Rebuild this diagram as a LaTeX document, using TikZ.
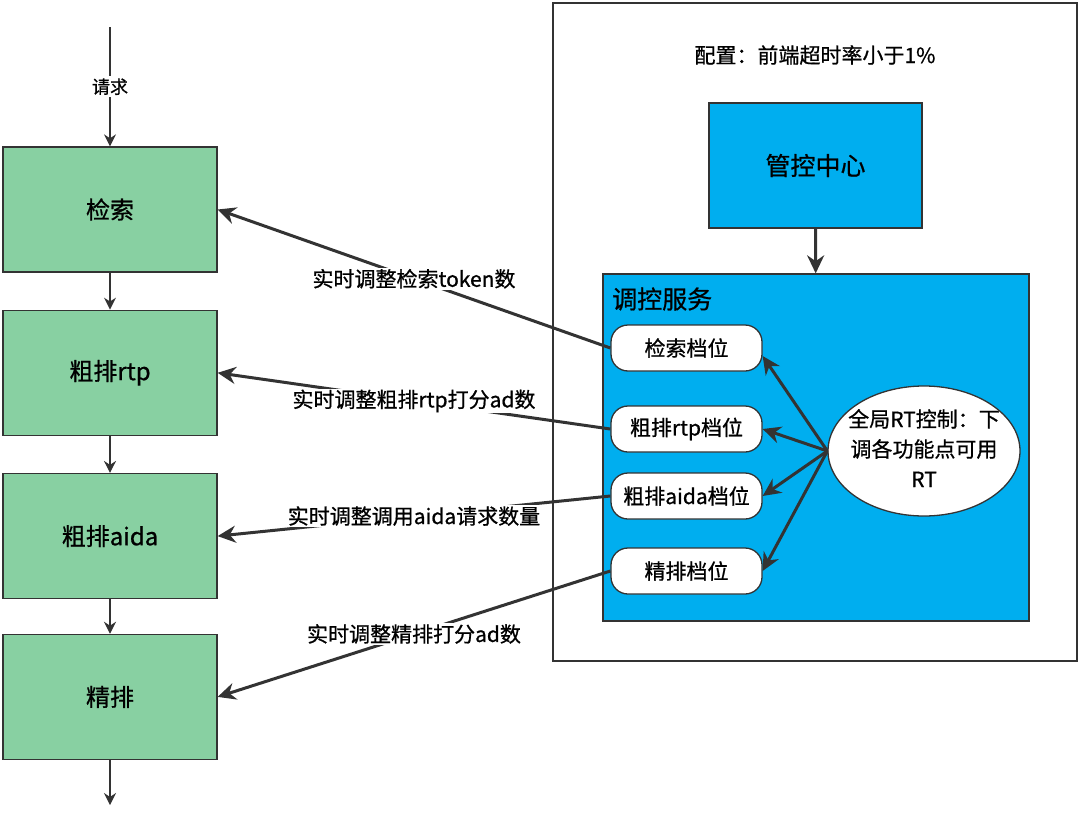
\documentclass[tikz,border=0pt]{standalone}
\usepackage{fontspec}
\setmainfont{Noto Sans CJK SC}[FakeBold=0.8]
\usetikzlibrary{arrows.meta,positioning,shapes.geometric}

\definecolor{linegray}{HTML}{333333}
\definecolor{stagegreen}{HTML}{88D0A2}
\definecolor{ctlblue}{HTML}{00AEEF}

\begin{document}
\begin{tikzpicture}[
    x=1pt, y=-1pt,
    node distance=37pt,
    stage/.style={rectangle, draw=linegray, line width=1.3pt, fill=stagegreen,
                  minimum width=214pt, minimum height=125pt,
                  font=\fontsize{24}{28}\selectfont},
    panel/.style={rectangle, draw=linegray, line width=1.3pt, fill=ctlblue},
    gear/.style={rectangle, rounded corners=17pt, draw=linegray, line width=1.3pt,
                 fill=white, minimum width=151pt, minimum height=46pt,
                 font=\fontsize{21}{25}\selectfont},
    flow/.style={-{Stealth[length=12pt,width=12pt]}, line width=1.3pt, draw=linegray},
    adjust/.style={-{Stealth[length=18pt,width=17pt]}, line width=3pt, draw=linegray},
    lbl/.style={fill=white, inner sep=1pt, font=\fontsize{21}{25}\selectfont}
]
\useasboundingbox (0,0) rectangle (1080,814);

%% ── Pipeline stages ──────────────────────────────────────────────
\node[stage] (search) at (110,209.5) {检索};
\node[stage, below=of search]    (rtp)  {粗排rtp};
\node[stage, below=of rtp]       (aida) {粗排aida};
\node[stage, below=34.5pt of aida] (fine) {精排};

\coordinate (req) at (110,27);
\coordinate (out) at (110,805);

%% ── Control side ─────────────────────────────────────────────────
\node[draw=linegray, line width=1.3pt, minimum width=524pt, minimum height=658pt]
    (outer) at (815,332) {};
\node[font=\fontsize{21}{25}\selectfont] (cfg) at (815,55) {配置：前端超时率小于1\%};

\node[panel, minimum width=213pt, minimum height=125pt,
      font=\fontsize{25}{30}\selectfont] (center) at (815.5,165.5) {管控中心};
\node[panel, minimum width=426pt, minimum height=347pt] (svc) at (816,447.5) {};
\node[anchor=west, inner sep=0pt, font=\fontsize{25}{30}\selectfont]
    (svctitle) at (612,299) {调控服务};

\node[gear] (g1) at (686.5,348) {检索档位};
\node[gear] (g2) at (686.5,429) {粗排rtp档位};
\node[gear] (g3) at (686.5,496) {粗排aida档位};
\node[gear] (g4) at (686.5,571) {精排档位};

\node[ellipse, draw=linegray, line width=1.3pt, fill=white, inner sep=0pt,
      minimum width=192pt, minimum height=130pt,
      font=\fontsize{21}{30}\selectfont] (rtctl) at (924,451)
    {\makebox[0pt]{\begin{tabular}{@{}c@{}}全局RT控制：下\\调各功能点可用\\RT\end{tabular}}};

%% ── Arrows ───────────────────────────────────────────────────────
\draw[flow] (req)    -- node[fill=white, inner sep=2pt, font=\fontsize{18}{22}\selectfont] {请求} (search);
\draw[flow] (search) -- (rtp);
\draw[flow] (rtp)    -- (aida);
\draw[flow] (aida)   -- (fine);
\draw[flow] (fine)   -- (out);

\draw[adjust] (center) -- (svc);

\draw[adjust] (g1.west) -- node[lbl] {实时调整检索token数} (search.east);
\draw[adjust] (g2.west) -- node[lbl] {实时调整粗排rtp打分ad数} (rtp.east);
\draw[adjust] (g3.west) -- node[lbl] {实时调整调用aida请求数量} (aida.east);
\draw[adjust] (g4.west) -- node[lbl] {实时调整精排打分ad数} (fine.east);

\draw[adjust] (rtctl.west) -- ([yshift=-8pt]g1.east);
\draw[adjust] (rtctl.west) -- (g2.east);
\draw[adjust] (rtctl.west) -- (g3.east);
\draw[adjust] (rtctl.west) -- (g4.east);
\end{tikzpicture}
\end{document}
